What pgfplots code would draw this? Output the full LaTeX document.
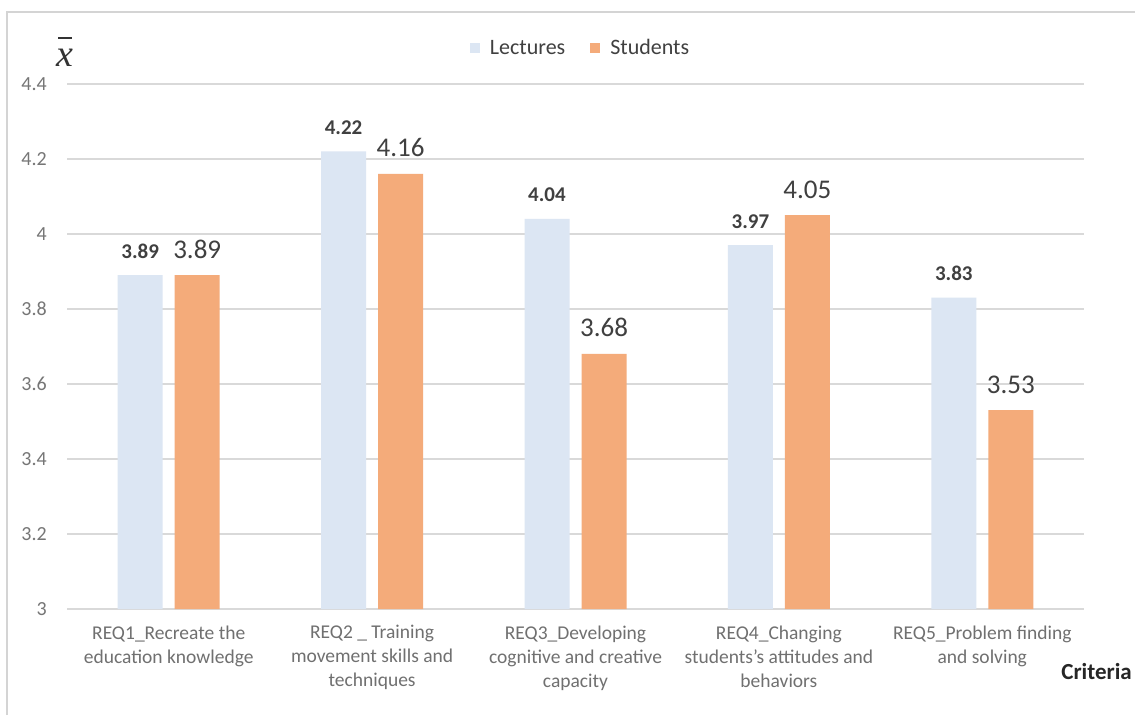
\documentclass[border=0pt]{standalone}
\usepackage{fontspec}
\setmainfont{Carlito}
\newfontfamily\xserif{Liberation Serif}
\usepackage{pgfplots}
\pgfplotsset{compat=1.18}
\definecolor{lect}{RGB}{220,230,243}
\definecolor{stud}{RGB}{244,171,122}
\definecolor{gridgray}{RGB}{217,217,217}
\definecolor{ticklab}{RGB}{118,118,118}
\definecolor{catlab}{RGB}{112,112,112}
\definecolor{datalab}{RGB}{64,64,64}
\definecolor{framegray}{RGB}{212,212,212}
\begin{document}
\begin{tikzpicture}[x=1pt,y=1pt]
\path[use as bounding box] (0,0) rectangle (1135,715);
\fill[white] (0,0) rectangle (1135,715);
\draw[framegray, line width=1.5pt] (7,0) -- (7,703) -- (1135,703);
\begin{axis}[
  at={(67pt,106pt)}, anchor=south west,
  scale only axis, width=1017pt, height=525pt,
  xmin=-0.5, xmax=4.5, ymin=3, ymax=4.4,
  ytick={3,3.2,3.4,3.6,3.8,4,4.2,4.4},
  yticklabels={3,3.2,3.4,3.6,3.8,4,4.2,4.4},
  ymajorgrids, grid style={draw=gridgray, line width=1.3pt},
  axis line style={draw=none}, tick style={draw=none},
  yticklabel style={font=\fontsize{20}{22}\selectfont, text=ticklab, anchor=east, inner sep=0pt, xshift=-20pt},
  xtick={0,1,2,3,4},
  xticklabels={{REQ1\_Recreate the\\education knowledge},{REQ2 \_ Training\\movement skills and\\techniques},{REQ3\_Developing\\cognitive and creative\\capacity},{REQ4\_Changing\\students's attitudes and\\behaviors},{REQ5\_Problem finding\\and solving}},
  xticklabel style={font=\fontsize{19.5}{24}\selectfont, text=catlab, align=center, anchor=north, inner sep=0pt, yshift=-12pt},
  ybar=12pt, bar width=45pt,
  clip=false,
  legend style={at={(0.504,1.069)}, anchor=center, draw=none, fill=none,
    font=\fontsize{22}{24}\selectfont, text=datalab, column sep=10pt,
    /tikz/every even column/.append style={column sep=25pt},
    nodes={inner sep=0pt}},
  legend columns=2,
  legend image code/.code={\fill[#1] (0pt,-5pt) rectangle (10pt,5pt);},
  /pgf/number format/assume math mode=true,
]
\addplot[fill=lect, draw=none,
  nodes near coords={\pgfmathprintnumber[fixed,fixed zerofill,precision=2,assume math mode=true]{\pgfplotspointmeta}},
  every node near coord/.append style={font=\fontsize{21}{24}\bfseries, text=datalab, anchor=base, inner sep=0pt, yshift=17pt}]
  coordinates {(0,3.89) (1,4.22) (2,4.04) (3,3.97) (4,3.83)};
\addplot[fill=stud, draw=none,
  nodes near coords={\pgfmathprintnumber[fixed,fixed zerofill,precision=2,assume math mode=true]{\pgfplotspointmeta}},
  every node near coord/.append style={font=\fontsize{27}{30}\selectfont, text=datalab, anchor=base, inner sep=0pt, yshift=17pt}]
  coordinates {(0,3.89) (1,4.16) (2,3.68) (3,4.05) (4,3.53)};
\legend{Lectures, Students}
\end{axis}
\node[font=\fontsize{23}{26}\selectfont\bfseries, text=black!85, anchor=east, inner sep=0pt] at (1132,43) {Criteria};
\node[font=\xserif\fontsize{38}{40}\selectfont\itshape, text=black!80, anchor=base, inner sep=0pt] at (65,648) {x};
\draw[black!80, line width=2.4pt] (58,677) -- (72,677);
\end{tikzpicture}
\end{document}
